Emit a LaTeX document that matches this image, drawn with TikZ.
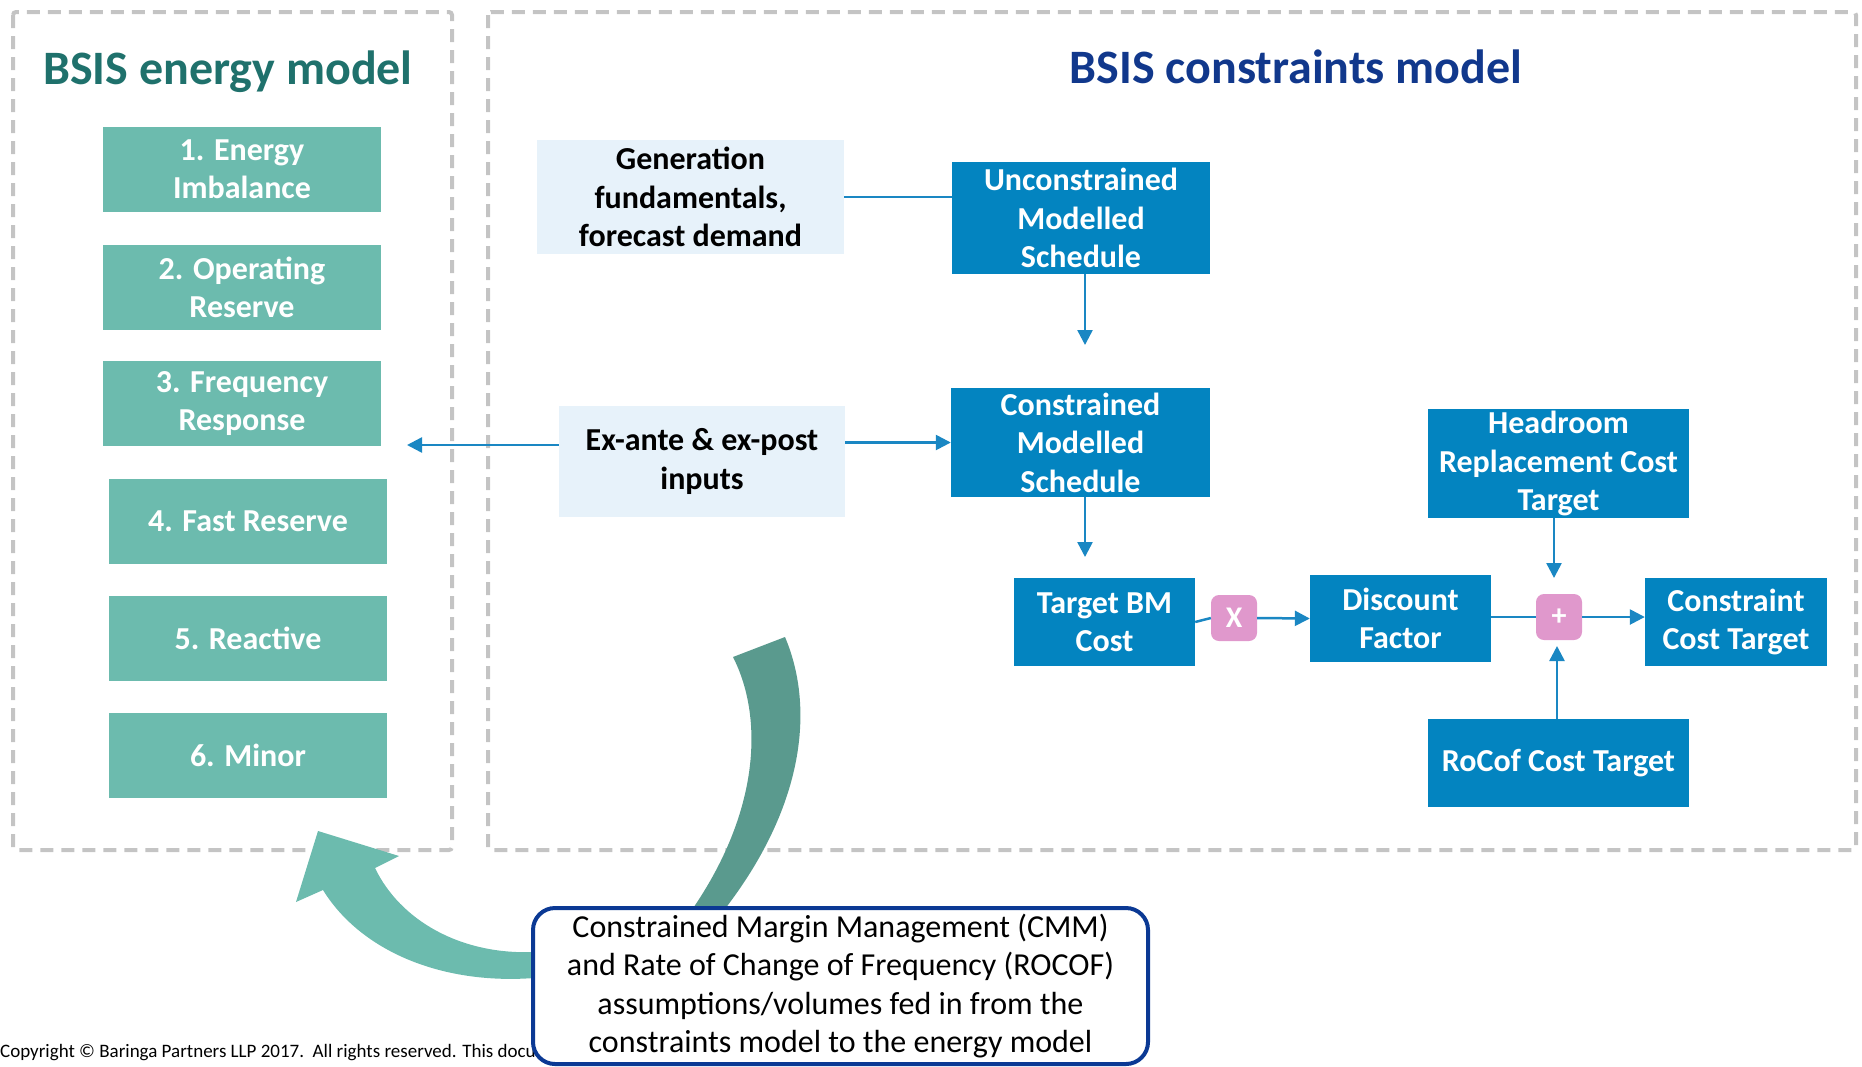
\documentclass[tikz,border=0pt]{standalone}
\usepackage{fontspec}
\setmainfont{Carlito}
\usetikzlibrary{arrows.meta}
\definecolor{tealbox}{HTML}{6CBBAE}
\definecolor{tealdark}{HTML}{5A9A8E}
\definecolor{tealtitle}{HTML}{1F716C}
\definecolor{navytitle}{HTML}{11388C}
\definecolor{bluebox}{HTML}{0384C0}
\definecolor{paleblue}{HTML}{E7F2FA}
\definecolor{pinkop}{HTML}{E098CC}
\definecolor{linkblue}{HTML}{1A87C3}
\definecolor{dashgray}{HTML}{C4C4C4}
\definecolor{calloutnavy}{HTML}{0B3994}
\tikzset{
  panel/.style={draw=dashgray, line width=4pt, dash pattern=on 13pt off 8pt, rounded corners=3pt},
  title/.style={font=\bfseries\fontsize{48}{56}\selectfont},
  service/.style={fill=tealbox, text=white, font=\bfseries\fontsize{32}{38}\selectfont,
    align=center, inner sep=0pt, minimum width=278pt, minimum height=85pt},
  stage/.style={fill=bluebox, text=white, font=\bfseries\fontsize{32}{38.5}\selectfont,
    align=center, inner sep=0pt},
  source/.style={fill=paleblue, text=black, font=\bfseries\fontsize{32}{38.5}\selectfont,
    align=center, inner sep=0pt},
  op/.style={fill=pinkop, text=white, rounded corners=8pt, font=\bfseries\fontsize{30}{30}\selectfont,
    inner sep=0pt, minimum width=46pt, minimum height=46pt},
  link/.style={draw=linkblue, line width=2.5pt},
  flow/.style={link, -{Triangle[length=15pt,width=15pt]}},
}
\begin{document}
\begin{tikzpicture}[x=1pt,y=-1pt]
\useasboundingbox (0,0) rectangle (1862,1066);

% dashed panels
\draw[panel] (13,12) rectangle (452,850);
\draw[panel] (488,12) rectangle (1856,850);

% panel titles
\node[title, text=tealtitle] (tE) at (228,72) {BSIS energy model};
\node[title, text=navytitle] (tC) at (1296,67) {BSIS constraints model};

% energy model services
\node[service] (s1) at (242,169.5) {1. Energy\\Imbalance};
\node[service] (s2) at (242,287) {2. Operating\\Reserve};
\node[service] (s3) at (242,403.5) {3. Frequency\\Response};
\node[service] (s4) at (248,521) {4. Fast Reserve};
\node[service] (s5) at (248,638) {5. Reactive};
\node[service] (s6) at (248,755) {6. Minor};

% constraints model inputs
\node[source, minimum width=307pt, minimum height=114pt] (gen) at (690.5,197)
  {Generation\\fundamentals,\\forecast demand};
\node[source, minimum width=286pt, minimum height=111pt] (exa) at (702,461.5)
  {Ex-ante \& ex-post\\inputs};

% constraints model stages
\node[stage, minimum width=258pt, minimum height=112pt] (unc) at (1081,218)
  {Unconstrained\\Modelled\\Schedule};
\node[stage, minimum width=259pt, minimum height=109pt] (con) at (1080.5,442.5)
  {Constrained\\Modelled\\Schedule};
\node[stage, minimum width=181pt, minimum height=88pt] (tbm) at (1104.5,622)
  {Target BM\\Cost};
\node[op] (mul) at (1234,618) {X};
\node[stage, minimum width=181pt, minimum height=87pt] (dis) at (1400.5,618.5)
  {Discount\\Factor};
\node[op] (add) at (1559,617) {+};
\node[stage, minimum width=182pt, minimum height=88pt] (cct) at (1736,622)
  {Constraint\\Cost Target};
\node[stage, minimum width=261pt, minimum height=109pt] (hrc) at (1558.5,463.5)
  {Headroom\\Replacement Cost\\Target};
\node[stage, minimum width=261pt, minimum height=88pt] (roc) at (1558.5,763)
  {RoCof Cost Target};

% free ends of the open arrows
\coordinate (uncEnd) at (1085,345);
\coordinate (conEnd) at (1085,557);
\coordinate (leftEnd) at (407,445);
\coordinate (hrcEnd) at (1554,578);
\coordinate (rocEnd) at (1557,646);

% connectors
\draw[link] (gen.east) -- (unc.west |- gen.east);
\draw[flow] (unc.south -| uncEnd) -- (uncEnd);
\draw[flow] (exa.east |- con.west) -- (con.west);
\draw[flow] (exa.west |- leftEnd) -- (leftEnd);
\draw[flow] (con.south -| conEnd) -- (conEnd);
\draw[link] (tbm.east) -- (mul.west);
\draw[flow] (mul.east) -- (dis.west);
\draw[link] (dis.east |- add.west) -- (add.west);
\draw[flow] (add.east) -- (cct.west |- add.east);
\draw[flow] (hrc.south -| hrcEnd) -- (hrcEnd);
\draw[flow] (roc.north -| rocEnd) -- (rocEnd);

% curved feedback arrow: back face
\fill[tealdark] (733,657) .. controls (765,720) and (760,820) .. (681,925)
  -- (712,925) .. controls (800,820) and (818,715) .. (785,637) -- cycle;
% curved feedback arrow: front face with head
\fill[tealbox] (545,978) -- (534,978) .. controls (440,985) and (360,950) .. (323,890)
  -- (296,902) -- (318,831) -- (399,856) -- (375,868)
  .. controls (400,920) and (460,955) .. (534,952) -- (545,952) -- cycle;

% footer
\node[anchor=base west, inner sep=0pt, font=\fontsize{19}{22}\selectfont] (copy) at (0,1057)
  {Copyright © Baringa Partners LLP 2017.\ \ All rights reserved. This document};

% callout
\node[draw=calloutnavy, line width=4pt, fill=white, rounded corners=22pt,
  minimum width=615pt, minimum height=156pt, inner sep=0pt, align=center,
  font=\fontsize{32}{38.5}\selectfont] (note) at (840.5,986)
  {Constrained Margin Management (CMM)\\and Rate of Change of Frequency (ROCOF)\\assumptions/volumes fed in from the\\constraints model to the energy model};
\end{tikzpicture}
\end{document}
